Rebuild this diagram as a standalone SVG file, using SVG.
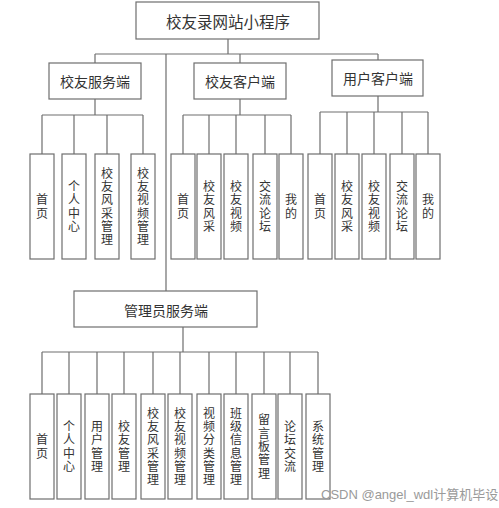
<svg xmlns="http://www.w3.org/2000/svg" width="499" height="508" viewBox="0 0 499 508">
<style>
.bx{fill:#fff;stroke:#6e6e6e;stroke-width:1.2}
.cn{fill:none;stroke:#6e6e6e;stroke-width:1.2}
text{font-family:"Noto Sans CJK SC","Noto Sans",sans-serif;fill:#333;text-anchor:middle;dominant-baseline:central}
.t1{font-size:15.5px}
.t2{font-size:14px}
.v{font-size:12px;writing-mode:vertical-rl;letter-spacing:1.3px}
.wm{font-family:"Liberation Sans","Noto Sans CJK SC",sans-serif;font-size:13px;fill:#9a9a9a;text-anchor:start;dominant-baseline:alphabetic}
</style>
<rect width="499" height="508" fill="#fff"/>
<g id="connectors" class="cn">
<path d="M228 39V54M95 54H378M95 54V63M240 54V63M378 54V60M166 54V291"/>
<path d="M95 99V115M42 115H143M42 115V154M74 115V154M107 115V154M143 115V154"/>
<path d="M240 99V115M183 115H291M183 115V154M209 115V154M236 115V154M265 115V154M291 115V154"/>
<path d="M378 96V112M320 112H428M320 112V154M347 112V154M374 112V154M402 112V154M428 112V154"/>
<path d="M183 327V352M42 352H318M42 352V394M69 352V394M97 352V394M124 352V394M153 352V394M180 352V394M209 352V394M236 352V394M264 352V394M290 352V394M318 352V394"/>
</g>
<g id="root"><rect class="bx" x="136" y="2" width="183" height="37"/><text class="t1" x="228" y="21">校友录网站小程序</text></g>
<g id="alumni-service"><rect class="bx" x="49" y="63" width="92" height="36"/><text class="t2" x="95" y="81">校友服务端</text></g>
<g id="alumni-client"><rect class="bx" x="194" y="63" width="92" height="36"/><text class="t2" x="240" y="81">校友客户端</text></g>
<g id="user-client"><rect class="bx" x="332" y="60" width="91" height="36"/><text class="t2" x="378" y="78">用户客户端</text></g>
<g id="admin"><rect class="bx" x="74" y="291" width="183" height="36"/><text class="t2" x="166" y="310">管理员服务端</text></g>

<g id="a1"><rect class="bx" x="30" y="154" width="24" height="105"/><text class="v" x="42" y="207">首页</text></g>
<g id="a2"><rect class="bx" x="62" y="154" width="24" height="105"/><text class="v" x="74" y="207">个人中心</text></g>
<g id="a3"><rect class="bx" x="95" y="154" width="24" height="105"/><text class="v" x="107" y="207">校友风采管理</text></g>
<g id="a4"><rect class="bx" x="131" y="154" width="24" height="105"/><text class="v" x="143" y="207">校友视频管理</text></g>

<g id="b1"><rect class="bx" x="171" y="154" width="24" height="105"/><text class="v" x="183" y="207">首页</text></g>
<g id="b2"><rect class="bx" x="197" y="154" width="24" height="105"/><text class="v" x="209" y="207">校友风采</text></g>
<g id="b3"><rect class="bx" x="224" y="154" width="24" height="105"/><text class="v" x="236" y="207">校友视频</text></g>
<g id="b4"><rect class="bx" x="253" y="154" width="24" height="105"/><text class="v" x="265" y="207">交流论坛</text></g>
<g id="b5"><rect class="bx" x="279" y="154" width="24" height="105"/><text class="v" x="291" y="207">我的</text></g>

<g id="c1"><rect class="bx" x="308" y="154" width="24" height="105"/><text class="v" x="320" y="207">首页</text></g>
<g id="c2"><rect class="bx" x="335" y="154" width="24" height="105"/><text class="v" x="347" y="207">校友风采</text></g>
<g id="c3"><rect class="bx" x="362" y="154" width="24" height="105"/><text class="v" x="374" y="207">校友视频</text></g>
<g id="c4"><rect class="bx" x="390" y="154" width="24" height="105"/><text class="v" x="402" y="207">交流论坛</text></g>
<g id="c5"><rect class="bx" x="416" y="154" width="24" height="105"/><text class="v" x="428" y="207">我的</text></g>

<g id="d1"><rect class="bx" x="30" y="394" width="24" height="105"/><text class="v" x="42" y="447">首页</text></g>
<g id="d2"><rect class="bx" x="57" y="394" width="24" height="105"/><text class="v" x="69" y="447">个人中心</text></g>
<g id="d3"><rect class="bx" x="85" y="394" width="24" height="105"/><text class="v" x="97" y="447">用户管理</text></g>
<g id="d4"><rect class="bx" x="112" y="394" width="24" height="105"/><text class="v" x="124" y="447">校友管理</text></g>
<g id="d5"><rect class="bx" x="141" y="394" width="24" height="105"/><text class="v" x="153" y="447">校友风采管理</text></g>
<g id="d6"><rect class="bx" x="168" y="394" width="24" height="105"/><text class="v" x="180" y="447">校友视频管理</text></g>
<g id="d7"><rect class="bx" x="197" y="394" width="24" height="105"/><text class="v" x="209" y="447">视频分类管理</text></g>
<g id="d8"><rect class="bx" x="224" y="394" width="24" height="105"/><text class="v" x="236" y="447">班级信息管理</text></g>
<g id="d9"><rect class="bx" x="252" y="394" width="24" height="105"/><text class="v" x="264" y="447">留言板管理</text></g>
<g id="d10"><rect class="bx" x="278" y="394" width="24" height="105"/><text class="v" x="290" y="447">论坛交流</text></g>
<g id="d11"><rect class="bx" x="306" y="394" width="24" height="105"/><text class="v" x="318" y="447">系统管理</text></g>

<text class="wm" x="321" y="499">CSDN @angel_wdl计算机毕设</text>
</svg>
